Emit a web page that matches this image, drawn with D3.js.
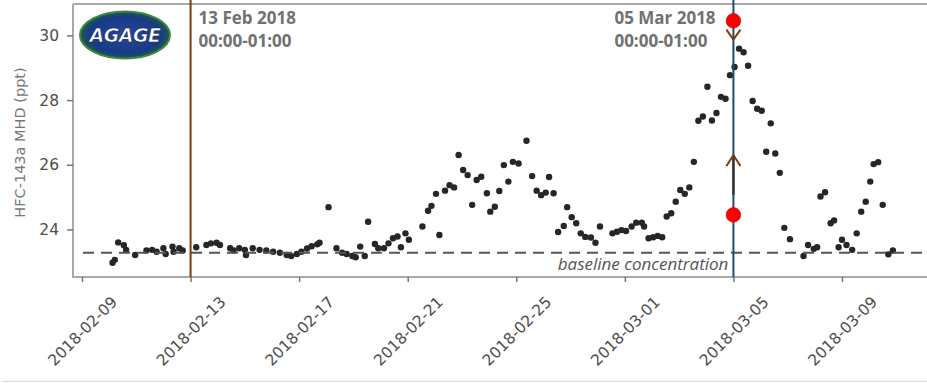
<!DOCTYPE html>
<html>
<head>
<meta charset="utf-8">
<script src="https://cdn.jsdelivr.net/npm/d3@7"></script>
<style>
  html, body { margin: 0; padding: 0; background: #fff; }
  svg { display: block; }
</style>
</head>
<body>
<svg id="chart" width="927" height="383"></svg>
<script>
// Hourly-sampled HFC-143a mole fractions at Mace Head (UTC)
const times = [
  "2018-02-10 03:00","2018-02-10 05:00","2018-02-10 08:00","2018-02-10 13:00","2018-02-10 15:00","2018-02-10 23:00",
  "2018-02-11 09:00","2018-02-11 14:00","2018-02-11 18:00",
  "2018-02-12 00:00","2018-02-12 02:00","2018-02-12 08:00","2018-02-12 09:00","2018-02-12 14:00","2018-02-12 17:00",
  "2018-02-13 05:00","2018-02-13 14:00","2018-02-13 18:00","2018-02-13 23:00",
  "2018-02-14 02:00","2018-02-14 11:00","2018-02-14 14:00","2018-02-14 19:00",
  "2018-02-15 00:00","2018-02-15 01:00","2018-02-15 07:00","2018-02-15 13:00","2018-02-15 19:00",
  "2018-02-16 01:00","2018-02-16 07:00","2018-02-16 13:00","2018-02-16 17:00","2018-02-16 22:00",
  "2018-02-17 02:00","2018-02-17 07:00","2018-02-17 11:00","2018-02-17 16:00","2018-02-17 18:00",
  "2018-02-18 02:00","2018-02-18 09:00","2018-02-18 14:00","2018-02-18 18:00","2018-02-18 23:00",
  "2018-02-19 02:00","2018-02-19 06:00","2018-02-19 10:00","2018-02-19 13:00","2018-02-19 19:00","2018-02-19 22:00",
  "2018-02-20 03:00","2018-02-20 07:00","2018-02-20 11:00","2018-02-20 15:00","2018-02-20 18:00","2018-02-20 22:00",
  "2018-02-21 01:00","2018-02-21 13:00","2018-02-21 18:00","2018-02-21 21:00",
  "2018-02-22 01:00","2018-02-22 04:00","2018-02-22 09:00","2018-02-22 13:00","2018-02-22 17:00","2018-02-22 21:00",
  "2018-02-23 01:00","2018-02-23 05:00","2018-02-23 09:00","2018-02-23 13:00","2018-02-23 17:00","2018-02-23 22:00",
  "2018-02-24 01:00","2018-02-24 05:00","2018-02-24 09:00","2018-02-24 13:00","2018-02-24 17:00","2018-02-24 21:00",
  "2018-02-25 02:00","2018-02-25 09:00","2018-02-25 14:00","2018-02-25 18:00","2018-02-25 22:00",
  "2018-02-26 02:00","2018-02-26 05:00","2018-02-26 09:00","2018-02-26 13:00","2018-02-26 18:00","2018-02-26 21:00",
  "2018-02-27 01:00","2018-02-27 05:00","2018-02-27 09:00","2018-02-27 13:00","2018-02-27 18:00","2018-02-27 22:00",
  "2018-02-28 02:00","2018-02-28 13:00","2018-02-28 17:00","2018-02-28 21:00",
  "2018-03-01 01:00","2018-03-01 06:00","2018-03-01 10:00","2018-03-01 15:00","2018-03-01 17:00","2018-03-01 21:00",
  "2018-03-02 01:00","2018-03-02 05:00","2018-03-02 09:00","2018-03-02 13:00","2018-03-02 17:00","2018-03-02 21:00",
  "2018-03-03 01:00","2018-03-03 05:00","2018-03-03 09:00","2018-03-03 13:00","2018-03-03 17:00","2018-03-03 21:00",
  "2018-03-04 01:00","2018-03-04 05:00","2018-03-04 09:00","2018-03-04 13:00","2018-03-04 17:00","2018-03-04 21:00",
  "2018-03-05 01:00","2018-03-05 05:00","2018-03-05 09:00","2018-03-05 13:00","2018-03-05 17:00","2018-03-05 21:00",
  "2018-03-06 01:00","2018-03-06 05:00","2018-03-06 09:00","2018-03-06 13:00","2018-03-06 17:00","2018-03-06 21:00",
  "2018-03-07 02:00","2018-03-07 14:00","2018-03-07 18:00","2018-03-07 23:00",
  "2018-03-08 02:00","2018-03-08 05:00","2018-03-08 09:00","2018-03-08 14:00","2018-03-08 17:00","2018-03-08 21:00",
  "2018-03-09 00:00","2018-03-09 04:00","2018-03-09 09:00","2018-03-09 13:00","2018-03-09 17:00","2018-03-09 21:00",
  "2018-03-10 01:00","2018-03-10 04:00","2018-03-10 08:00","2018-03-10 12:00","2018-03-10 17:00","2018-03-10 21:00"
];
const values = [
  22.97,23.06,23.60,23.51,23.37,23.21,
  23.35,23.37,23.31,
  23.42,23.24,23.47,23.31,23.42,23.35,
  23.45,23.52,23.57,23.59,
  23.52,23.42,23.35,23.42,
  23.37,23.21,23.42,23.37,23.35,
  23.31,23.28,23.21,23.18,23.24,
  23.31,23.41,23.48,23.54,23.59,
  24.69,23.42,23.28,23.24,23.18,
  23.14,23.47,23.18,24.24,23.55,23.42,
  23.42,23.57,23.73,23.78,23.45,23.88,
  23.68,24.09,24.58,24.73,
  25.10,23.83,25.20,25.37,25.30,26.30,
  25.84,25.68,24.76,25.53,25.63,25.12,
  24.55,24.70,25.19,25.99,25.48,26.09,
  26.04,26.74,25.65,25.20,25.06,
  25.14,25.62,25.12,23.92,24.11,24.69,
  24.38,24.19,23.88,23.77,23.75,23.59,
  24.09,23.88,23.93,23.98,
  23.95,24.09,24.21,24.21,24.09,23.73,
  23.76,23.80,23.76,24.40,24.50,24.86,
  25.22,25.10,25.30,26.09,27.36,27.49,
  28.41,27.37,27.60,28.10,28.04,28.77,
  29.02,29.59,29.48,29.06,27.97,27.73,
  27.67,26.40,27.28,26.35,25.75,24.05,
  23.70,23.18,23.52,23.40,
  23.45,25.02,25.15,24.19,24.28,23.45,
  23.68,23.52,23.37,23.88,24.55,24.86,
  25.48,26.02,26.08,24.76,23.23,23.35
];

// Axis settings
const yTicks = [24, 26, 28, 30];
const xTickDates = ["2018-02-09","2018-02-13","2018-02-17","2018-02-21","2018-02-25","2018-03-01","2018-03-05","2018-03-09"];
const xDomain = ["2018-02-08 16:02", "2018-03-12 02:17"];
const yDomain = [22.53, 30.97];
const yLabel = "HFC-143a MHD (ppt)";

// Highlighted release windows
const eventTimes = ["2018-02-13 00:00", "2018-03-05 00:00"];
const eventDates = ["13 Feb 2018", "05 Mar 2018"];
const eventHours = ["00:00-01:00", "00:00-01:00"];

// Baseline and the selected-hour markers
const baselineValue = 23.28;
const baselineText = "baseline concentration";
const markerValues = [30.45, 24.45];
const arrowDown = 29.87;           // tip of the upper chevron
const arrowUp = [26.30, 25.07];    // tip and foot of the lower arrow

const parseTime = d3.utcParse("%Y-%m-%d %H:%M");
const parseDay = d3.utcParse("%Y-%m-%d");
const data = times.map((t, i) => ({ t: parseTime(t), v: values[i] }));

const svg = d3.select("#chart");
const W = 927, H = 383;
const plotLeft = 73, plotRight = 926, plotTop = 4, plotBottom = 277;

const x = d3.scaleUtc().domain(xDomain.map(parseTime)).range([plotLeft, plotRight]);
const y = d3.scaleLinear().domain(yDomain).range([plotBottom, plotTop]);

const tickFont = "'DejaVu Sans', sans-serif";
const noteFont = "'Open Sans', 'Noto Sans', sans-serif";

// Light rule under the figure
svg.append("line")
  .attr("x1", 2).attr("x2", W).attr("y1", 381.5).attr("y2", 381.5)
  .attr("stroke", "#dedede").attr("stroke-width", 1.5);

// Data points
svg.append("g").selectAll("circle").data(data).join("circle")
  .attr("cx", d => x(d.t)).attr("cy", d => y(d.v))
  .attr("r", 3.2).attr("fill", "#262626");

// Baseline
svg.append("line")
  .attr("x1", plotLeft + 10).attr("x2", plotRight)
  .attr("y1", y(baselineValue)).attr("y2", y(baselineValue))
  .attr("stroke", "#555").attr("stroke-width", 2)
  .attr("stroke-dasharray", "11,7");

const tSecond = parseTime(eventTimes[1]);
svg.append("text")
  .attr("x", x(tSecond) - 5).attr("y", y(baselineValue) + 17.5)
  .attr("text-anchor", "end")
  .attr("font-family", noteFont).attr("font-style", "italic")
  .attr("font-size", 17).attr("fill", "#555")
  .text(baselineText);

// Frame
const frame = svg.append("g").attr("stroke", "#a8a8a8").attr("stroke-width", 2).attr("fill", "none");
frame.append("line").attr("x1", plotLeft).attr("x2", plotRight + 2).attr("y1", plotTop).attr("y2", plotTop);
frame.append("line").attr("x1", plotLeft).attr("x2", plotRight + 2).attr("y1", plotBottom).attr("y2", plotBottom);
frame.append("line").attr("x1", plotLeft).attr("x2", plotLeft).attr("y1", plotTop).attr("y2", plotBottom + 1);

// Y axis
const yAxis = svg.append("g").attr("transform", `translate(${plotLeft},0)`)
  .call(d3.axisLeft(y).tickValues(yTicks).tickSize(6).tickPadding(8).tickFormat(d3.format("d")));
yAxis.select(".domain").remove();
yAxis.selectAll(".tick line").attr("stroke", "#777").attr("stroke-width", 1.5);
yAxis.selectAll(".tick text")
  .attr("font-family", tickFont).attr("font-size", 15.5).attr("fill", "#4d4d4d");

svg.append("text")
  .attr("transform", `translate(20,${(plotTop + plotBottom) / 2 + 2}) rotate(-90)`)
  .attr("text-anchor", "middle").attr("dominant-baseline", "central")
  .attr("font-family", tickFont).attr("font-size", 14.5).attr("fill", "#777")
  .text(yLabel);

// X axis with rotated date labels
const xAxis = svg.append("g").attr("transform", `translate(0,${plotBottom})`)
  .call(d3.axisBottom(x).tickValues(xTickDates.map(parseDay)).tickSize(5)
    .tickFormat(d3.utcFormat("%Y-%m-%d")));
xAxis.select(".domain").remove();
xAxis.selectAll(".tick line").attr("stroke", "#777").attr("stroke-width", 1.5);
xAxis.selectAll(".tick text")
  .attr("y", 0).attr("dy", "0.35em")
  .attr("transform", "translate(0,54) rotate(-45)")
  .attr("text-anchor", "middle")
  .attr("font-family", tickFont).attr("font-size", 15.5).attr("fill", "#4d4d4d");

// Event lines
const eventColors = ["#7a3d0c", "#1e4d6b"];
eventTimes.forEach((t, i) => {
  const ex = x(parseTime(t));
  svg.append("line")
    .attr("x1", ex).attr("x2", ex).attr("y1", 0).attr("y2", plotBottom)
    .attr("stroke", eventColors[i]).attr("stroke-width", 2);
});

// Event annotations: the first sits right of its line, the second left of it
const noteX = [x(parseTime(eventTimes[0])) + 8, x(tSecond) - 119];
eventTimes.forEach((t, i) => {
  const g = svg.append("g")
    .attr("font-family", noteFont).attr("font-weight", 700)
    .attr("font-size", 17).attr("fill", "#717171");
  g.append("text").attr("x", noteX[i]).attr("y", 24).text(eventDates[i]);
  g.append("text").attr("x", noteX[i]).attr("y", 47).text(eventHours[i]);
});

// Arrow marks on the second event line
const ax = x(tSecond);
svg.append("line")
  .attr("x1", ax).attr("x2", ax).attr("y1", y(arrowUp[0])).attr("y2", y(arrowUp[1]))
  .attr("stroke", "#333").attr("stroke-width", 2.4);
const chevron = svg.append("g").attr("fill", "none").attr("stroke", "#7a3d0c").attr("stroke-width", 2);
chevron.append("path")
  .attr("d", `M${ax - 7},${y(arrowDown) - 10} L${ax},${y(arrowDown)} L${ax + 7},${y(arrowDown) - 10}`);
chevron.append("path")
  .attr("d", `M${ax - 7},${y(arrowUp[0]) + 11} L${ax},${y(arrowUp[0])} L${ax + 7},${y(arrowUp[0]) + 11}`);

svg.append("g").selectAll("circle").data(markerValues).join("circle")
  .attr("cx", ax).attr("cy", d => y(d)).attr("r", 7.3)
  .attr("fill", "#ff0000").attr("stroke", "#b00000").attr("stroke-width", 0.6);

// AGAGE badge
const logo = svg.append("g").attr("transform", "translate(125,35)");
const grad = svg.append("defs").append("radialGradient").attr("id", "badge");
grad.append("stop").attr("offset", "0%").attr("stop-color", "#24459a");
grad.append("stop").attr("offset", "80%").attr("stop-color", "#183b86");
grad.append("stop").attr("offset", "100%").attr("stop-color", "#1d5a4a");
logo.append("ellipse").attr("rx", 45).attr("ry", 23.5)
  .attr("fill", "url(#badge)").attr("stroke", "#3f8a3a").attr("stroke-width", 2);
logo.append("text")
  .attr("text-anchor", "middle").attr("y", 7)
  .attr("font-family", "'DejaVu Sans', sans-serif").attr("font-weight", 700)
  .attr("font-style", "italic").attr("font-size", 19)
  .attr("fill", "#fff").attr("stroke", "#0d2250").attr("stroke-width", 0.6)
  .attr("letter-spacing", -0.5)
  .text("AGAGE");
</script>
</body>
</html>
